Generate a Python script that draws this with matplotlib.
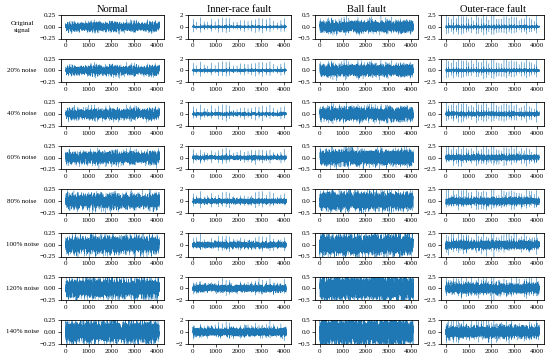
import matplotlib
matplotlib.use("Agg")
import matplotlib.pyplot as plt
import numpy as np

plt.rcParams["font.family"] = ["Liberation Serif", "DejaVu Serif"]

# Columns: fault type, y-limit and y-ticks
categories = ["Normal", "Inner-race fault", "Ball fault", "Outer-race fault"]
y_limits = [0.25, 2.0, 0.5, 2.5]
y_ticks = [[-0.25, 0.0, 0.25], [-2, 0, 2], [-0.5, 0.0, 0.5], [-2.5, 0.0, 2.5]]
y_fmt = ["{:.2f}", "{:.0f}", "{:.1f}", "{:.1f}"]

# Rows: added noise level (fraction of signal std)
row_labels = ["Original\nsignal", "20% noise", "40% noise", "60% noise",
              "80% noise", "100% noise", "120% noise", "140% noise"]
noise_levels = [0.0, 0.2, 0.4, 0.6, 0.8, 1.0, 1.2, 1.4]
noise_gain = 1.5   # how wide the noisy bands look relative to the clean std

x_ticks = [0, 1000, 2000, 3000, 4000]
n_samples = 4096

# Rough look of each clean signal, estimated from the top row
base_noise = [0.04, 0.09, 0.11, 0.12]        # background vibration std
impulse_amp = [0.0, 1.5, 0.3, 2.6]           # fault impulse height
impulse_period = [1, 160, 95, 110]           # samples between impulses
mod_amp = [0.035, 0.0, 0.0, 0.0]             # slow wobble on normal signal

rng = np.random.default_rng(7)
t = np.arange(n_samples)


def clean_signal(k):
    sig = base_noise[k] * rng.standard_normal(n_samples)
    if mod_amp[k]:
        sig += mod_amp[k] * np.sin(2 * np.pi * t / 70) * (1 + 0.5 * np.sin(2 * np.pi * t / 900))
    if impulse_amp[k]:
        ring = np.exp(-np.arange(30) / 4.0) * np.cos(np.arange(30) * 2.6)
        for start in range(20, n_samples - 30, impulse_period[k]):
            a = impulse_amp[k] * (0.5 + 0.5 * rng.random())
            sig[start:start + 30] += a * ring
    return sig


originals = [clean_signal(k) for k in range(4)]

fig = plt.figure(figsize=(5.5, 3.64), dpi=100)
W, H = 550, 364
lefts = [61, 188, 315, 441]
width = 103
top0, pitch, height = 15, 43.6, 23.5

for r in range(8):
    for c in range(4):
        top = top0 + r * pitch
        ax = fig.add_axes([lefts[c] / W, 1 - (top + height) / H, width / W, height / H])
        sig = originals[c]
        if noise_levels[r]:
            sig = sig + noise_gain * noise_levels[r] * sig.std() * rng.standard_normal(n_samples)
        ax.plot(t, sig, color="#1f77b4", linewidth=0.2)
        ax.set_ylim(-y_limits[c], y_limits[c])
        ax.set_yticks(y_ticks[c])
        ax.set_yticklabels([y_fmt[c].format(v).replace("-", "\u2212") for v in y_ticks[c]])
        ax.set_xticks(x_ticks)
        ax.tick_params(labelsize=5, length=2, width=0.5, pad=1.5)
        for spine in ax.spines.values():
            spine.set_linewidth(0.6)
        if r == 0:
            ax.set_title(categories[c], fontsize=7.5, pad=2)
        if c == 0:
            fig.text(22 / W, 1 - (top + height / 2) / H, row_labels[r],
                     fontsize=5, ha="center", va="center", linespacing=1.4)

fig.savefig("out.png", dpi=100)
